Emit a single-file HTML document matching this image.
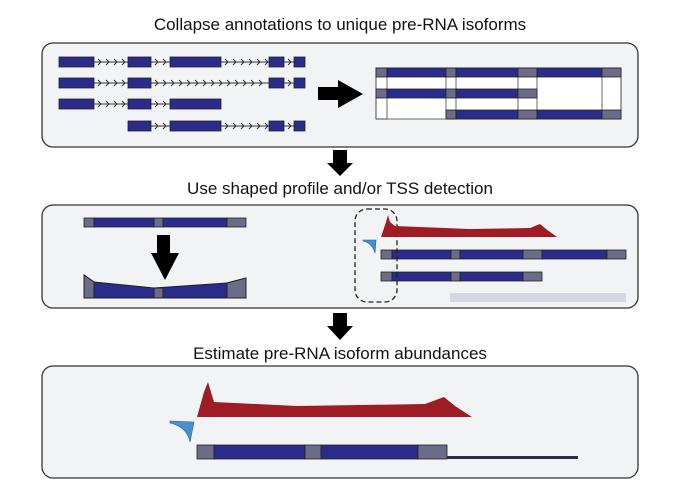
<!DOCTYPE html>
<html><head><meta charset="utf-8"><style>
body{margin:0;background:#fff;}
svg{display:block;font-family:"Liberation Sans",sans-serif;}
</style></head><body>
<svg id="fig" width="678" height="492" viewBox="0 0 678 492">
<text x="340" y="30" text-anchor="middle" font-size="17" fill="#111">Collapse annotations to unique pre-RNA isoforms</text>
<rect x="42" y="43" width="596" height="104" rx="11" fill="#f2f3f4" stroke="#333" stroke-width="1.3"/>
<polygon points="333,150 347,150 347,163 353,163 340,176 327,163 333,163" fill="#000"/>
<text x="340" y="194" text-anchor="middle" font-size="17" fill="#111">Use shaped profile and/or TSS detection</text>
<rect x="42" y="205" width="596" height="103" rx="11" fill="#f2f3f4" stroke="#333" stroke-width="1.3"/>
<polygon points="333,313 347,313 347,326 353,326 340,340 327,326 333,326" fill="#000"/>
<text x="340" y="359" text-anchor="middle" font-size="17" fill="#111">Estimate pre-RNA isoform abundances</text>
<rect x="42" y="366" width="596" height="112" rx="11" fill="#f2f3f4" stroke="#333" stroke-width="1.3"/>
<g id="g"></g>
<polygon points="318,87 338,87 338,80 363,94 338,108 338,100 318,100" fill="#000"/>
<polygon points="157,235 170,235 170,253 179,253 165,280 151,253 157,253" fill="#000"/>
<rect x="355" y="209" width="42" height="93" rx="12" fill="none" stroke="#222" stroke-width="1.3" stroke-dasharray="5,3"/>
<polygon points="84,275 94,282 154,288 227,283 246,278 246,298 84,298" fill="#2b2b8c" stroke="#222" stroke-width="1"/>
<polygon points="84,275 94,282 94,298 84,298" fill="#6b6b8a" stroke="#222" stroke-width="1"/>
<rect x="154" y="288" width="9" height="10" fill="#6b6b8a" stroke="#222" stroke-width="1"/>
<polygon points="227,283 246,278 246,298 227,298" fill="#6b6b8a" stroke="#222" stroke-width="1"/>
<path d="M381,237 L386,222 L388,215 L390,222 L395,226 L470,229 L530,228 L540,224 L546,229 L557,237 Z" fill="#a01c24"/>
<path d="M363,240 L376,240 L375,253 Q372,243 363,241 Z" fill="#4a8fd0" stroke="#2a5a90" stroke-width="0.6"/>
<rect x="450" y="293" width="176" height="9" fill="#d6d6e6"/>
<path d="M197,417 L204,392 L208,382 L211,392 L214,402 L297,406 L425,404 L444,397 L455,406 L472,417 Z" fill="#a01c24"/>
<path d="M170,421 L194,422 L190,442 Q187,427 170,423 Z" fill="#4a8fd0" stroke="#2a5a90" stroke-width="0.6"/>
<rect x="447" y="456" width="131" height="3" fill="#2a2a4a"/>
</svg>
<script>
// [x1,x2,kind] kind: 0 = blue exon, 1 = gray
const isoRows = [
 {y:57,h:10,ex:[[59,94],[128,151],[170,221],[269,284],[294,305]]},
 {y:78,h:10,ex:[[59,94],[128,151],[269,284],[294,305]]},
 {y:99,h:10,ex:[[59,94],[128,151],[170,221]]},
 {y:121,h:10,ex:[[128,151],[170,221],[269,284],[294,305]]}
];
const bars = [
 {y:68,h:9,segs:[[376,387,1],[387,446,0],[446,456,1],[456,518,0],[518,537,1],[537,602,0],[602,621,1]]},
 {y:89,h:9,segs:[[376,387,1],[387,446,0],[446,456,1],[456,518,0],[518,537,1]]},
 {y:110,h:9,segs:[[446,456,1],[456,518,0],[518,537,1],[537,602,0],[602,621,1]]},
 {y:218,h:9,segs:[[84,94,1],[94,154,0],[154,163,1],[163,227,0],[227,246,1]]},
 {y:250,h:9,segs:[[381,392,1],[392,451,0],[451,460,1],[460,523,0],[523,542,1],[542,607,0],[607,626,1]]},
 {y:272,h:9,segs:[[381,392,1],[392,451,0],[451,460,1],[460,523,0],[523,542,1]]},
 {y:445,h:14,segs:[[197,214,1],[214,305,0],[305,321,1],[321,418,0],[418,447,1]]}
];
const NS='http://www.w3.org/2000/svg';
const g=document.getElementById('g');
function mk(t,a){const e=document.createElementNS(NS,t);for(const k in a)e.setAttribute(k,a[k]);g.appendChild(e);return e;}
[[376,387],[446,456],[518,537],[602,621]].forEach(c=>{
 const e=mk('rect',{x:c[0],y:68,width:c[1]-c[0],height:51,fill:'none',stroke:'#444','stroke-width':0.8});
 
 
});
const ob=mk('rect',{x:376,y:68,width:245,height:51,fill:'#fff',stroke:'#444','stroke-width':0.8});


g.insertBefore(ob,g.firstChild);
isoRows.forEach((r,ri)=>{
 const x0=r.ex[0][0], x1=r.ex[r.ex.length-1][1];
 const ln=mk('line',{x1:x0,x2:x1,y1:r.y+r.h/2,y2:r.y+r.h/2,stroke:'#333','stroke-width':1});
 
 
 for(let i=0;i<r.ex.length-1;i++){
  const a=r.ex[i][1], b=r.ex[i+1][0];
  for(let x=a+4;x<b-2;x+=8){
   const ch=mk('path',{d:`M${x},${r.y+r.h/2-3} L${x+3},${r.y+r.h/2} L${x},${r.y+r.h/2+3}`,fill:'none',stroke:'#333','stroke-width':1});
   
   
  }
 }
 r.ex.forEach(e=>{
  const el=mk('rect',{x:e[0],y:r.y,width:e[1]-e[0],height:r.h,fill:'#2b2b8c',stroke:'#222','stroke-width':0.8});
  
  
 });
});
bars.forEach(b=>{
 b.segs.forEach(s=>{
  const el=mk('rect',{x:s[0],y:b.y,width:s[1]-s[0],height:b.h,fill:s[2]?'#6b6b8a':'#2b2b8c',stroke:'#222','stroke-width':0.8});
  
  
 });
});
</script>
</body></html>
